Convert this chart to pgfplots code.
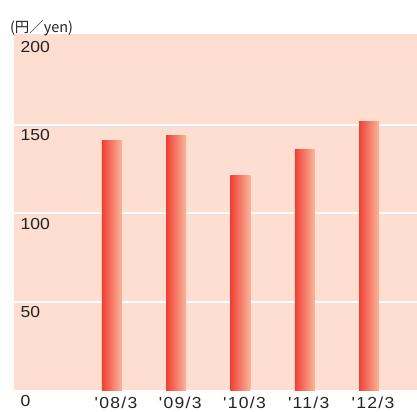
\documentclass[border=0pt]{standalone}
\usepackage{pgfplots}
\pgfplotsset{compat=1.18}
\usepackage{fontspec}
\setmainfont{Liberation Sans}
\newfontfamily\lab{Liberation Sans}[FakeStretch=1.1]
\newfontfamily\xlab{Liberation Sans}[FakeStretch=1.1, LetterSpace=8]
\newfontfamily\cjk{Noto Sans CJK JP}
\definecolor{bgpink}{RGB}{253,222,208}
\definecolor{barleft}{RGB}{239,65,52}
\definecolor{barright}{RGB}{250,182,157}
\definecolor{txt}{RGB}{35,35,35}
\pgfplotsset{gbar/.style={ybar, bar shift=0pt, draw=none, left color=barleft, right color=barright}}
\begin{document}
\begin{tikzpicture}
\begin{axis}[
  scale only axis,
  width=403bp, height=356.2bp,
  xmin=-1.525, xmax=4.747,
  ymin=0, ymax=201.2,
  axis line style={draw=none},
  axis background/.style={fill=bgpink},
  major tick length=0pt,
  xtick={0,1,2,3,4},
  xticklabels={{\char"27 08/3},{\char"27 09/3},{\char"27 10/3},{\char"27 11/3},{\char"27 12/3}},
  ytick={0,50,100,150,200},
  extra y ticks={50,100,150},
  extra y tick labels={},
  extra y tick style={ymajorgrids=true},
  grid style={white, line width=1.8bp},
  /pgf/number format/assume math mode=true,
  yticklabel style={font=\lab\fontsize{16}{16}\selectfont, text=txt, anchor=north west, xshift=3bp, yshift=-1.5bp},
  xticklabel style={font=\xlab\fontsize{16}{16}\selectfont, text=txt, yshift=-3bp, xshift=4bp},
  bar width=20bp,
  clip=false,
]
\addplot[gbar] coordinates {(0,141)};
\addplot[gbar] coordinates {(1,144)};
\addplot[gbar] coordinates {(2,121)};
\addplot[gbar] coordinates {(3,136)};
\addplot[gbar] coordinates {(4,152)};
\end{axis}
\node[anchor=west, text=txt, font=\cjk\fontsize{14.5}{14.5}\selectfont] at (-7.5bp,362.5bp) {(円／yen)};
\pgfresetboundingbox
\path (-14bp,-21.8bp) rectangle (403bp,390.2bp);
\end{tikzpicture}
\end{document}
